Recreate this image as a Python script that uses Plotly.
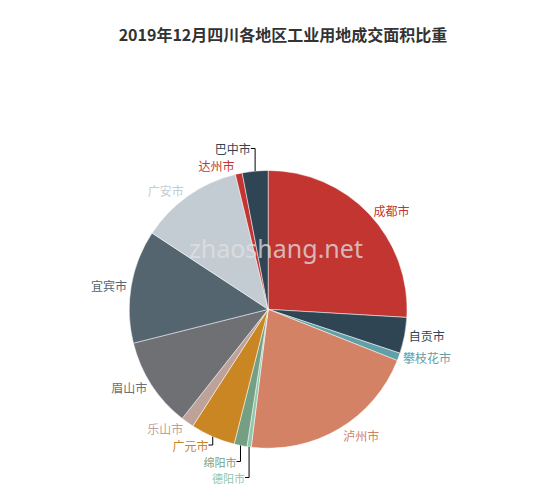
import plotly.graph_objects as go

cities = ["成都市","自贡市","攀枝花市","泸州市","德阳市","绵阳市","广元市","乐山市","眉山市","宜宾市","广安市","达州市","巴中市"]
shares = [26.0, 4.2, 0.9, 21.0, 0.5, 1.5, 5.2, 1.5, 10.5, 13.2, 12.0, 0.8, 3.0]
colors = ["#c23531","#2f4554","#61a0a8","#d48265","#91c7ae","#749f83","#ca8622","#bda29a","#6e7074","#546570","#c4ccd3","#c23531","#2f4554"]
label_sizes = [12, 12, 12, 12, 11, 11, 12, 12, 12, 12, 12, 12, 12]

fig = go.Figure(go.Pie(
    labels=cities, values=shares, sort=False, direction="clockwise", rotation=0,
    marker=dict(colors=colors, line=dict(color="white", width=0.5)),
    textinfo="label", textposition="outside",
    textfont=dict(color=colors, size=label_sizes, family="Noto Sans CJK SC"),
    showlegend=False, hoverinfo="label+percent",
    domain=dict(x=[0.1755, 0.7705], y=[0.1015, 0.6685]),
))
fig.update_layout(
    width=550, height=490, margin=dict(l=0, r=0, t=0, b=0),
    paper_bgcolor="white", plot_bgcolor="white",
    title=dict(text="<b>2019年12月四川各地区工业用地成交面积比重</b>", x=0.5, y=0.955, xanchor="center",
               font=dict(size=16, color="#333", family="Noto Sans CJK SC")),
    annotations=[dict(text="zhaoshang.net", x=0.487, y=0.51, xref="paper", yref="paper", showarrow=False,
                      font=dict(size=25, color="rgba(225,225,225,0.75)", family="Noto Sans"))],
)
fig.write_html("out.html")
